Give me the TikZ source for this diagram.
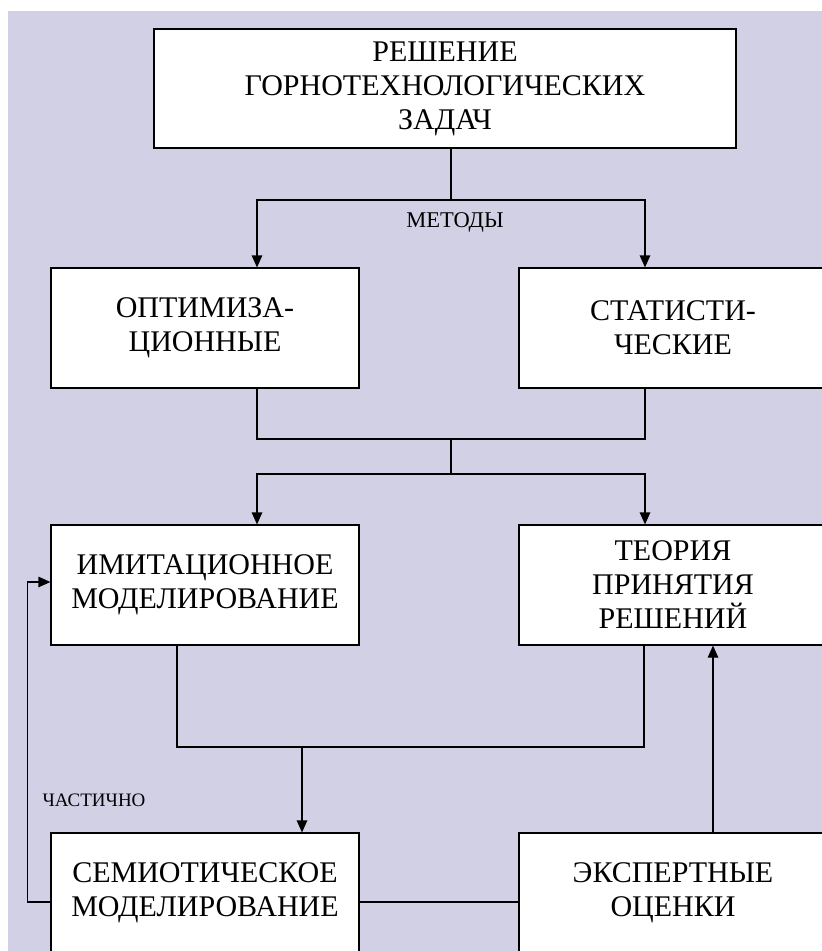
\documentclass[tikz,border=0pt]{standalone}
\usepackage{fontspec}
\setmainfont{Liberation Serif}
\usepackage{tikz}
\usetikzlibrary{arrows.meta, positioning}

\definecolor{bglilac}{RGB}{210,208,229}

\begin{document}
\begin{tikzpicture}[x=1pt, y=-1pt,
    box/.style={draw, line width=1.2pt, fill=white, align=center, inner sep=0pt,
                font=\fontsize{30}{34}\selectfont},
    link/.style={line width=1.2pt},
    arr/.style={link, -{Triangle[length=12pt, width=10.5pt]}},
    lbl/.style={font=\fontsize{19}{22}\selectfont}]
    % page and background
    \useasboundingbox (0,0) rectangle (822,951);
    \clip (0,0) rectangle (822,951);
    \fill[white] (0,0) rectangle (822,951);
    \fill[bglilac] (8,11) rectangle (822,951);

    % Boxes
    \node[box, minimum width=582pt, minimum height=119pt] (goal) at (445,88.5)
        {РЕШЕНИЕ\\ГОРНОТЕХНОЛОГИЧЕСКИХ\\ЗАДАЧ};
    \node[box, minimum width=308pt, minimum height=120pt] (opt) at (205,328)
        {ОПТИМИЗА-\\ЦИОННЫЕ};
    \node[box, minimum width=308pt, minimum height=120pt] (stat) at (673,328)
        {СТАТИСТИ-\\ЧЕСКИЕ};
    \node[box, minimum width=308pt, minimum height=120pt] (imit) at (205,585)
        {ИМИТАЦИОННОЕ\\МОДЕЛИРОВАНИЕ};
    \node[box, minimum width=308pt, minimum height=120pt] (theo) at (673,585)
        {ТЕОРИЯ\\ПРИНЯТИЯ\\РЕШЕНИЙ};
    \node[box, minimum width=308pt, minimum height=120pt] (semi) at (205,893)
        {СЕМИОТИЧЕСКОЕ\\МОДЕЛИРОВАНИЕ};
    \node[box, minimum width=308pt, minimum height=120pt] (expert) at (673,893)
        {ЭКСПЕРТНЫЕ\\ОЦЕНКИ};

    % Methods split
    \coordinate (m1) at (451,200);
    \draw[link] (goal.south -| m1) -- (m1);
    \draw[arr] (m1) -| ([xshift=52pt]opt.north);
    \draw[arr] (m1) -| ([xshift=-28pt]stat.north);
    \node[lbl, font=\fontsize{22.5}{26}\selectfont] (methods) at (455,222) {МЕТОДЫ};

    % Join and second split
    \coordinate (m2) at (451,439);
    \coordinate (m3) at (451,474);
    \draw[link] ([xshift=52pt]opt.south) |- (m2) -| ([xshift=-28pt]stat.south);
    \draw[link] (m2) -- (m3);
    \draw[arr] (m3) -| ([xshift=52pt]imit.north);
    \draw[arr] (m3) -| ([xshift=-28pt]theo.north);

    % Join to semiotic modelling
    \coordinate (m4) at (302,747);
    \draw[link] ([xshift=-28pt]imit.south) |- (m4) -| ([xshift=-29pt]theo.south);
    \draw[arr] (m4) -- (m4 |- semi.north);

    % Bottom links
    \draw[link] ([yshift=-9pt]semi.east) -- ([yshift=-9pt]expert.west);
    \draw[arr] ([xshift=40pt]expert.north) -- ([xshift=40pt]theo.south);

    % Feedback
    \draw[arr] ([yshift=-9pt]semi.west) -- ++(-23,0) |- ([yshift=3pt]imit.west);
    \node[lbl] (partly) at (94,800) {ЧАСТИЧНО};
\end{tikzpicture}
\end{document}
